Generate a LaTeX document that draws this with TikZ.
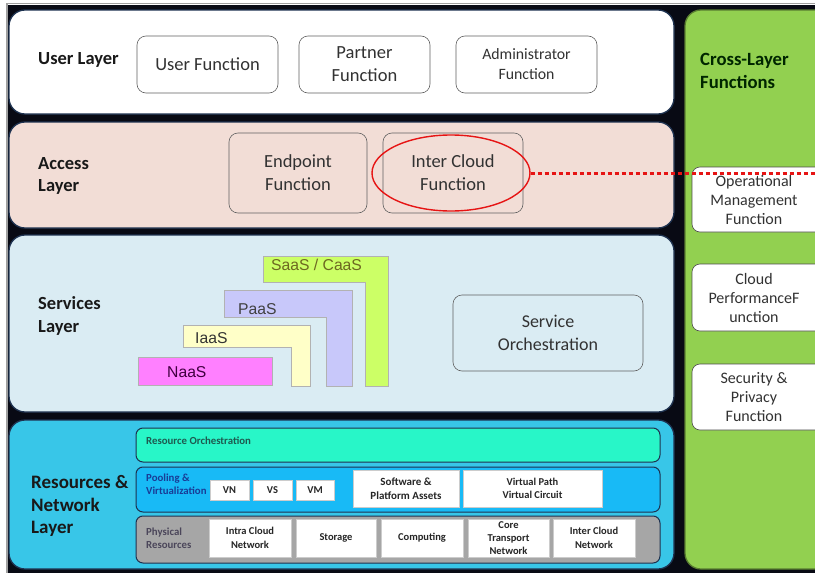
\documentclass[tikz,border=0pt]{standalone}
\usepackage{fontspec}
\setmainfont{Carlito}
\newfontfamily\arialf{Liberation Sans}
\usetikzlibrary{shapes.geometric}
\definecolor{bgdark}{RGB}{8,10,20}
\definecolor{frameg}{RGB}{160,160,160}
\definecolor{layeredge}{RGB}{30,50,80}
\definecolor{accessc}{RGB}{242,221,214}
\definecolor{servc}{RGB}{218,236,243}
\definecolor{resc}{RGB}{56,198,232}
\definecolor{orchc}{RGB}{40,246,200}
\definecolor{poolc}{RGB}{24,186,246}
\definecolor{physc}{RGB}{166,166,166}
\definecolor{greenc}{RGB}{146,208,80}
\definecolor{saasc}{RGB}{204,255,102}
\definecolor{paasc}{RGB}{200,200,250}
\definecolor{iaasc}{RGB}{255,255,200}
\definecolor{naasc}{RGB}{255,128,255}
\definecolor{txtg}{RGB}{50,50,50}
\definecolor{pooltxt}{RGB}{25,60,150}
\definecolor{orchtxt}{RGB}{30,90,80}
\definecolor{phystxt}{RGB}{75,70,90}
\definecolor{redc}{RGB}{230,20,20}
\newcommand{\boxat}[7]{\node[#1,minimum width={(#5-#3)*1pt},minimum height={(#6-#4)*1pt}] (#2) at ({(#3+#5)/2},{(#4+#6)/2}) {#7};}
\tikzset{
  layer/.style={draw=layeredge, line width=1.3pt, rounded corners=16pt, inner sep=0pt, outer sep=0pt},
  sublayer/.style={draw=layeredge, line width=1pt, rounded corners=7pt, inner sep=0pt, outer sep=0pt},
  fnbox/.style={draw=gray!75!black, line width=0.6pt, rounded corners=9pt, align=center, inner sep=0pt, outer sep=0pt, text=txtg},
  bigfont/.style={font=\fontsize{18.5}{23}\selectfont},
  crossbox/.style={draw=gray!60!black, fill=white, line width=0.6pt, rounded corners=8pt, align=center, inner sep=0pt, outer sep=0pt, text=txtg, font=\fontsize{16}{19}\selectfont},
  resbox/.style={draw=gray!40, fill=white, line width=0.6pt, align=center, inner sep=0pt, outer sep=0pt, text=black!85, font=\bfseries\fontsize{10.5}{13.5}\selectfont},
  laylabel/.style={anchor=west, align=left, font=\bfseries\fontsize{18.5}{22.5}\selectfont, text=black!90, inner sep=0pt},
  sublabel/.style={anchor=west, align=left, font=\bfseries\fontsize{10.8}{13.5}\selectfont, inner sep=0pt},
  lshape/.style={draw=gray!60, line width=0.6pt},
  ltext/.style={font=\arialf\fontsize{15.7}{18}\selectfont, inner sep=0pt}
}
\begin{document}
\begin{tikzpicture}[x=1pt,y=-1pt]
\clip (0,0) rectangle (815,573);
\fill[white] (0,0) rectangle (815,573);
\fill[bgdark] (8,5) rectangle (830,580);
\draw[frameg, line width=1.5pt] (7,580) -- (7,3.5) -- (830,3.5);
% layers
\boxat{layer, fill=white}{user}{9}{10}{674}{114}{}
\boxat{layer, fill=accessc}{access}{9}{122}{674}{228}{}
\boxat{layer, fill=servc}{services}{9}{235}{674}{412}{}
\boxat{layer, fill=resc}{resources}{9}{420}{674}{569}{}
\boxat{layer, fill=greenc, draw=greenc!60!black}{cross}{685}{10}{835}{569}{}
% layer labels
\node[laylabel] (userlbl) at (38,60) {User Layer};
\node[laylabel] (accesslbl) at (38,176) {Access\\Layer};
\node[laylabel] (servlbl) at (38,316) {Services\\Layer};
\node[laylabel, font=\bfseries\fontsize{19}{22.5}\selectfont] (reslbl) at (31,506) {Resources \&\\Network\\Layer};
\node[laylabel, font=\bfseries\fontsize{18.7}{23}\selectfont, text=black!85!green] (crosslbl) at (700,71) {Cross-Layer\\Functions};
% user layer
\boxat{fnbox, fill=white, bigfont}{userfn}{137}{36}{278}{93}{User Function}
\boxat{fnbox, fill=white, bigfont}{partnerfn}{299}{36}{430}{93}{Partner\\Function}
\boxat{fnbox, fill=white, font=\fontsize{15.8}{20}\selectfont}{adminfn}{456}{36}{597}{93}{Administrator\\Function}
% access layer
\boxat{fnbox, fill=accessc, bigfont}{endpointfn}{229}{133}{367}{213}{Endpoint\\Function}
\boxat{fnbox, fill=accessc, bigfont}{intercloudfn}{383}{133}{523}{213}{Inter Cloud\\Function}
\node[ellipse, draw=redc, line width=1.4pt, minimum width=158pt, minimum height=76pt, inner sep=0pt] (redell) at (451,173) {};
% services layer
\path[lshape, fill=saasc] (263,256) -- (388,256) -- (388,386) -- (365,386) -- (365,282) -- (263,282) -- cycle;
\node[ltext, text=olive!70!black, anchor=west] (saas) at (271,265) {SaaS / CaaS};
\path[lshape, fill=paasc] (224,290) -- (352,290) -- (352,386) -- (326,386) -- (326,317) -- (224,317) -- cycle;
\node[ltext, text=gray!50!black, anchor=west] (paas) at (238,309) {PaaS};
\path[lshape, fill=iaasc] (183,325) -- (310,325) -- (310,386) -- (291,386) -- (291,347) -- (183,347) -- cycle;
\node[ltext, text=gray!40!black, anchor=west] (iaas) at (195,338) {IaaS};
\path[lshape, fill=naasc] (138,357) rectangle (272,385);
\node[ltext, text=violet!50!black, anchor=west] (naas) at (167,372) {NaaS};
\boxat{fnbox, fill=servc, font=\fontsize{18}{23}\selectfont}{serviceorch}{453}{295}{643}{371}{Service\\Orchestration}
% resources layer
\boxat{sublayer, fill=orchc}{resorch}{136}{428}{660}{462}{}
\node[sublabel, text=orchtxt] (resorchlbl) at (146,441) {Resource Orchestration};
\boxat{sublayer, fill=poolc}{pooling}{136}{467}{660}{512}{}
\node[sublabel, text=pooltxt] (poollbl) at (146,484) {Pooling \&\\Virtualization};
\boxat{sublayer, fill=physc}{physical}{136}{516}{660}{563}{}
\node[sublabel, text=phystxt] (physlbl) at (146,538) {Physical\\Resources};
\boxat{resbox}{vn}{210}{480}{249}{500}{VN}
\boxat{resbox}{vs}{253}{480}{292}{500}{VS}
\boxat{resbox}{vm}{296}{480}{334}{500}{VM}
\boxat{resbox, font=\bfseries\fontsize{11}{14}\selectfont}{swassets}{353}{470}{459}{507}{Software \&\\Platform Assets}
\boxat{resbox}{vpath}{463}{470}{602}{507}{Virtual Path\\Virtual Circuit}
\boxat{resbox}{intranet}{209}{519}{291}{557}{Intra Cloud\\Network}
\boxat{resbox}{storage}{296}{519}{376}{557}{Storage}
\boxat{resbox}{computing}{381}{519}{463}{557}{Computing}
\boxat{resbox, font=\bfseries\fontsize{10.5}{13}\selectfont}{coretrans}{468}{519}{549}{557}{Core\\Transport\\Network}
\boxat{resbox}{internet}{553}{519}{635}{557}{Inter Cloud\\Network}
% cross-layer functions
\boxat{crossbox}{opmgmt}{692}{167}{836}{232}{}
\node[crossbox, draw=none, fill=none, anchor=center] (opmgmtlbl) at (754,200) {Operational\\Management\\Function};
\boxat{crossbox}{cloudperf}{692}{264}{836}{331}{}
\node[crossbox, draw=none, fill=none, anchor=center] (cloudperflbl) at (754,298) {Cloud\\PerformanceF\\unction};
\boxat{crossbox}{secpriv}{692}{364}{836}{430}{}
\node[crossbox, draw=none, fill=none, anchor=center] (secprivlbl) at (754,397) {Security \&\\Privacy\\Function};
% dotted red connector
\coordinate (dotend) at (830,173);
\draw[redc, line width=3pt, dash pattern=on 4pt off 3pt] (redell.east) -- (dotend);
\end{tikzpicture}
\end{document}
